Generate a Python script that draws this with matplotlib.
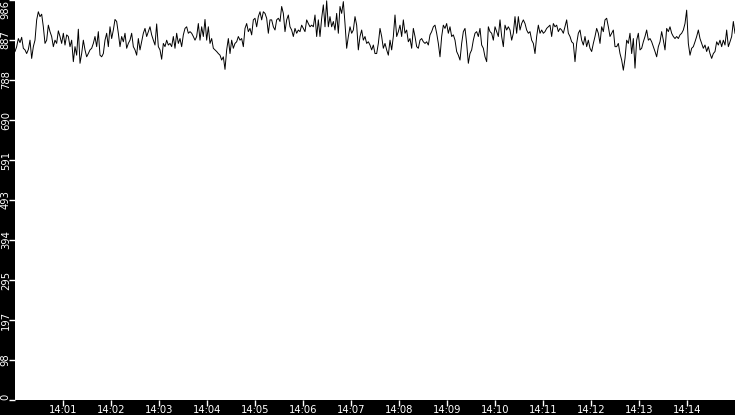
import numpy as np
import matplotlib
matplotlib.use("Agg")
from matplotlib import pyplot as plt

# valores, aprox. cada 2 segundos, por tramos
seg1 = [859, 871, 891, 881, 894, 867, 863, 854, 864, 887, 842, 871, 887, 937, 957, 945,
        951, 920, 879, 887, 924, 908, 896, 871, 887, 879, 910, 896, 879, 904, 875, 900,
        896, 871, 887, 834, 871, 850, 914, 830, 854, 887, 863, 846, 854, 863, 867, 879,
        896, 871, 908, 850, 846, 854, 887, 904, 871, 920, 891, 912, 938, 933, 904, 871,
        896, 883, 904, 867, 879, 887, 904, 871]
seg2 = [863, 850, 891, 863, 883, 904, 916, 896, 908, 920, 900, 887, 875, 927, 871, 863,
        840, 879, 871, 887, 875, 879, 871, 896, 867, 904, 879, 891, 871, 900, 916, 920,
        904, 908, 904, 896, 887, 896, 928, 887, 920, 896, 938, 887, 920, 879, 891, 867,
        863, 859, 854, 850, 838, 846, 815, 863, 891, 854, 887, 867, 879, 883, 896, 887,
        891, 871, 916, 928, 908, 916, 900, 937, 941]
seg3 = [920, 945, 957, 937, 957, 953, 941, 904, 937, 937, 920, 912, 937, 941, 933, 970,
        953, 908, 937, 949, 920, 912, 896, 916, 904, 912, 908, 924, 916, 908, 937, 928,
        920, 924, 920, 949, 896, 937, 896, 941, 974, 920, 984, 920, 945, 920, 933, 912,
        953, 904, 970, 953, 982, 928, 867, 896, 920, 904, 912, 945, 924, 863, 896, 912,
        887, 896, 879, 883, 875, 863, 875, 854]
seg4 = [854, 879, 916, 896, 867, 879, 863, 850, 887, 863, 896, 949, 896, 908, 924, 896,
        937, 904, 912, 883, 891, 867, 916, 896, 871, 867, 887, 891, 883, 879, 883, 875,
        900, 908, 920, 924, 904, 879, 846, 896, 924, 916, 928, 904, 920, 896, 900, 887,
        859, 850, 838, 879, 908, 916, 879, 830, 854, 863, 887, 904, 908, 896, 916, 875,
        867, 846, 834, 920, 908, 904, 887, 920]
seg5 = [908, 896, 937, 896, 871, 924, 912, 920, 912, 887, 904, 945, 904, 945, 912, 928,
        937, 928, 912, 904, 908, 887, 879, 854, 896, 924, 904, 912, 904, 908, 916, 920,
        924, 896, 928, 920, 924, 908, 916, 912, 904, 920, 937, 904, 896, 883, 879, 834,
        879, 904, 912, 887, 875, 896, 871, 887, 867, 859, 879, 896, 916, 904, 879, 920,
        908, 937, 941, 920, 896, 904, 912, 871]
seg6 = [871, 879, 854, 838, 813, 842, 887, 879, 904, 854, 891, 818, 887, 904, 863, 867,
        883, 896, 912, 887, 891, 883, 871, 859, 846, 871, 883, 908, 887, 863, 916, 908,
        920, 904, 896, 891, 896, 891, 900, 904, 912, 928, 961, 879, 850, 867, 871, 883,
        896, 912, 891, 879, 867, 875, 859, 871, 854, 842, 854, 859, 883, 875, 887, 871,
        887, 875, 912, 871, 883, 896, 933, 904]
valores = seg1 + seg2 + seg3 + seg4 + seg5 + seg6

duracion = 15 * 60          # 14:00 -> 14:15, en segundos
etiquetas_x = ['14:%02d' % m for m in range(1, 15)]
y_max = 986

if __name__ == '__main__':
    segundos = np.linspace(0, duracion, len(valores))

    fig = plt.figure(figsize=(7.35, 4.15), dpi=100, facecolor='black')
    ax = fig.add_axes([15 / 735, 15 / 415, 720 / 735, 400 / 415])
    ax.set_facecolor('white')

    ax.plot(segundos, valores, color='black', linewidth=0.7)

    ax.set_xlim(0, duracion)
    ax.set_ylim(0, y_max)

    ax.set_xticks([60 * m for m in range(1, 15)])
    ax.set_xticklabels(etiquetas_x)
    yt = np.linspace(0, y_max, 11)
    ax.set_yticks(yt)
    ax.set_yticklabels([str(int(v)) for v in yt])

    ax.tick_params(colors='white', labelsize=7.2, length=4, width=1)
    ax.tick_params(axis='x', pad=-0.5)
    ax.tick_params(axis='y', pad=-1)
    for lab in ax.get_yticklabels():
        lab.set_rotation(90)
        lab.set_va('center')
    ylabs = ax.get_yticklabels()
    ylabs[0].set_va('bottom')
    ylabs[-1].set_va('top')

    for s in ax.spines.values():
        s.set_visible(False)

    fig.savefig('out.png', dpi=100, facecolor='black')
